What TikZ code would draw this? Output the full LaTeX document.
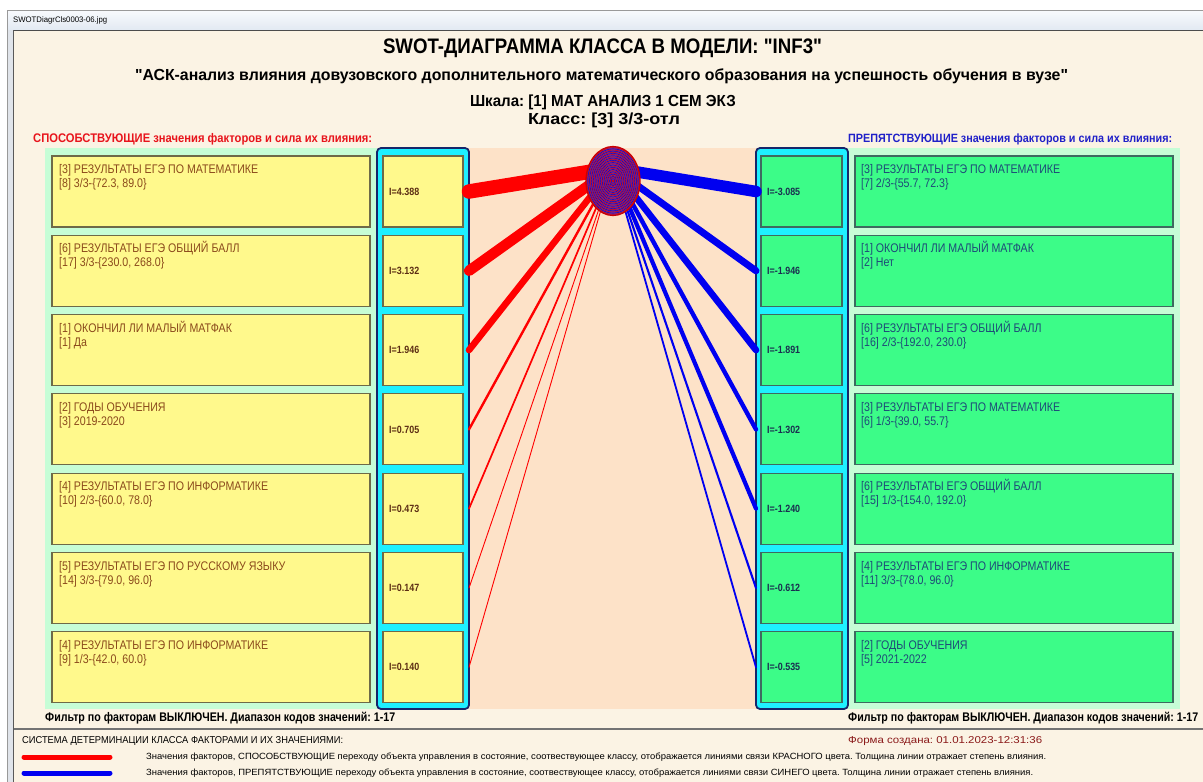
\documentclass[tikz,border=0pt]{standalone}
\usepackage{fontspec}
\setmainfont{Liberation Sans}[Ligatures=TeXOff]
\newfontfamily\nar[FakeStretch=0.85,Ligatures=TeXOff]{Liberation Sans}
\usepackage{graphicx}
\usetikzlibrary{shapes.geometric}
\frenchspacing
% set a line at its natural height, squeezed or stretched to a given width
\newcommand{\fitw}[2]{\resizebox{#1}{\height}{#2}}

\definecolor{cream}{HTML}{FBF3E4}
\definecolor{mint}{HTML}{C6FDD6}
\definecolor{peach}{HTML}{FDE2C8}
\definecolor{yel}{HTML}{FFF98C}
\definecolor{grn}{HTML}{3CFC88}
\definecolor{cyanc}{HTML}{1EF0FF}
\definecolor{navy}{HTML}{16266A}
\definecolor{yborder}{HTML}{6E6A48}
\definecolor{gborder}{HTML}{3E6A60}
\definecolor{ytext}{HTML}{8B4A1C}
\definecolor{yval}{HTML}{5C2E14}
\definecolor{gtext}{HTML}{1E4A78}
\definecolor{gval}{HTML}{1A2F50}
\definecolor{hdred}{HTML}{E8141C}
\definecolor{hdblue}{HTML}{2020C8}
\definecolor{lnred}{HTML}{FF0000}
\definecolor{lnblue}{HTML}{0000F0}
\definecolor{purp}{HTML}{7A2C9C}
\definecolor{formred}{HTML}{8B1A1A}
\definecolor{tbtop}{HTML}{F8FAFD}
\definecolor{tbbot}{HTML}{E2E9F2}
\definecolor{framefill}{HTML}{E0E4EA}

\begin{document}
\begin{tikzpicture}[x=1pt,y=-1pt,
  panelbox/.style={anchor=north west, inner sep=0, outer sep=0, draw=none},
  colbox/.style={anchor=north west, inner sep=0, outer sep=0, fill=cyanc, draw=navy,
    line width=1.8pt, rounded corners=4pt, minimum width=92pt, minimum height=561pt},
  ybox/.style={anchor=north west, inner sep=0, outer sep=0, fill=yel, draw=yborder,
    line width=1.1pt},
  gbox/.style={anchor=north west, inner sep=0, outer sep=0, fill=grn, draw=gborder,
    line width=1.1pt},
  ftext/.style={anchor=base west, inner sep=0, font=\nar\fontsize{12.5}{14}\selectfont},
  vtext/.style={anchor=west, inner sep=0, font=\nar\bfseries\fontsize{10.5}{12}\selectfont},
  redlink/.style={draw=lnred, line cap=round},
  bluelink/.style={draw=lnblue, line cap=round},
]
\useasboundingbox (0,0) rectangle (1203,782);
\fill[white] (0,0) rectangle (1203,782);

% window title bar and frame
\shade[top color=tbtop, bottom color=tbbot] (7,10) rectangle (1203,30);
\draw[black!40, line width=0.8pt] (7,10.4) -- (1203,10.4);
\draw[black!70, line width=1pt] (7,30) -- (1203,30);
\node[anchor=west, inner sep=0] (wtitle) at (13,20.5)
  {\fitw{94pt}{\fontsize{8}{8}\selectfont SWOTDiagrCls0003-06.jpg}};
\fill[framefill] (7,30) rectangle (14,782);
\draw[black!40, line width=0.8pt] (7.4,10) -- (7.4,782);
\draw[black!65, line width=0.9pt] (13.5,30) -- (13.5,782);
\fill[cream] (14,30.5) rectangle (1203,782);

% headings
\node[inner sep=0] (title) at (602.5,48)
  {\fitw{439pt}{\bfseries\fontsize{21}{21}\selectfont SWOT-ДИАГРАММА КЛАССА В МОДЕЛИ: "INF3"}};
\node[inner sep=0] (subtitle) at (601.5,76)
  {\fitw{933pt}{\bfseries\fontsize{16}{16}\selectfont "АСК-анализ влияния довузовского дополнительного математического образования на успешность обучения в вузе"}};
\node[inner sep=0] (scale) at (603,102)
  {\fitw{266pt}{\bfseries\fontsize{16}{16}\selectfont Шкала: [1] МАТ АНАЛИЗ 1 СЕМ ЭКЗ}};
\node[inner sep=0] (cls text) at (604,120)
  {\fitw{152pt}{\bfseries\fontsize{16}{16}\selectfont Класс: [3] 3/3-отл}};
\node[inner sep=0, anchor=west, text=hdred] (lhead) at (33,139)
  {\fitw{339pt}{\bfseries\fontsize{12.5}{12.5}\selectfont СПОСОБСТВУЮЩИЕ значения факторов и сила их влияния:}};
\node[inner sep=0, anchor=west, text=hdblue] (rhead) at (848,139)
  {\fitw{324pt}{\bfseries\fontsize{12}{12}\selectfont ПРЕПЯТСТВУЮЩИЕ значения факторов и сила их влияния:}};

% background panels
\node[panelbox, fill=mint, minimum width=332pt, minimum height=561pt] (lpanel) at (45,148) {};
\node[panelbox, fill=peach, minimum width=288pt, minimum height=561pt] (mpanel) at (469,148) {};
\node[panelbox, fill=mint, minimum width=332pt, minimum height=561pt] (rpanel) at (848,148) {};
\node[colbox] (lcol) at (377,148) {};
\node[colbox] (rcol) at (756,148) {};

% supporting factor values (left)
\foreach \i/\fa/\fb/\val in {
  1/{[3] РЕЗУЛЬТАТЫ ЕГЭ ПО МАТЕМАТИКЕ}/{[8] 3/3-\{72.3, 89.0\}}/4.388,
  2/{[6] РЕЗУЛЬТАТЫ ЕГЭ ОБЩИЙ БАЛЛ}/{[17] 3/3-\{230.0, 268.0\}}/3.132,
  3/{[1] ОКОНЧИЛ ЛИ МАЛЫЙ МАТФАК}/{[1] Да}/1.946,
  4/{[2] ГОДЫ ОБУЧЕНИЯ}/{[3] 2019-2020}/0.705,
  5/{[4] РЕЗУЛЬТАТЫ ЕГЭ ПО ИНФОРМАТИКЕ}/{[10] 2/3-\{60.0, 78.0\}}/0.473,
  6/{[5] РЕЗУЛЬТАТЫ ЕГЭ ПО РУССКОМУ ЯЗЫКУ}/{[14] 3/3-\{79.0, 96.0\}}/0.147,
  7/{[4] РЕЗУЛЬТАТЫ ЕГЭ ПО ИНФОРМАТИКЕ}/{[9] 1/3-\{42.0, 60.0\}}/0.140}{
  \pgfmathsetmacro\yt{156+79.3*(\i-1)}
  \node[ybox, minimum width=318pt, minimum height=71pt] (L\i) at (52,\yt) {};
  \node[ftext, text=ytext, xshift=7pt, yshift=-17.5pt] (La\i) at (L\i.north west) {\fa};
  \node[ftext, text=ytext, xshift=7pt, yshift=-31.5pt] (Lb\i) at (L\i.north west) {\fb};
  \node[ybox, minimum width=80pt, minimum height=71pt] (lv\i) at (383,\yt) {};
  \node[vtext, text=yval, xshift=6pt] (lvt\i) at (lv\i.west) {I=\val};
}

% hindering factor values (right)
\foreach \i/\fa/\fb/\val in {
  1/{[3] РЕЗУЛЬТАТЫ ЕГЭ ПО МАТЕМАТИКЕ}/{[7] 2/3-\{55.7, 72.3\}}/-3.085,
  2/{[1] ОКОНЧИЛ ЛИ МАЛЫЙ МАТФАК}/{[2] Нет}/-1.946,
  3/{[6] РЕЗУЛЬТАТЫ ЕГЭ ОБЩИЙ БАЛЛ}/{[16] 2/3-\{192.0, 230.0\}}/-1.891,
  4/{[3] РЕЗУЛЬТАТЫ ЕГЭ ПО МАТЕМАТИКЕ}/{[6] 1/3-\{39.0, 55.7\}}/-1.302,
  5/{[6] РЕЗУЛЬТАТЫ ЕГЭ ОБЩИЙ БАЛЛ}/{[15] 1/3-\{154.0, 192.0\}}/-1.240,
  6/{[4] РЕЗУЛЬТАТЫ ЕГЭ ПО ИНФОРМАТИКЕ}/{[11] 3/3-\{78.0, 96.0\}}/-0.612,
  7/{[2] ГОДЫ ОБУЧЕНИЯ}/{[5] 2021-2022}/-0.535}{
  \pgfmathsetmacro\yt{156+79.3*(\i-1)}
  \node[gbox, minimum width=81pt, minimum height=71pt] (rv\i) at (761,\yt) {};
  \node[vtext, text=gval, xshift=6pt] (rvt\i) at (rv\i.west) {I=\val};
  \node[gbox, minimum width=318pt, minimum height=71pt] (R\i) at (855,\yt) {};
  \node[ftext, text=gtext, xshift=6pt, yshift=-17.5pt] (Ra\i) at (R\i.north west) {\fa};
  \node[ftext, text=gtext, xshift=6pt, yshift=-31.5pt] (Rb\i) at (R\i.north west) {\fb};
}

% links: line width follows the strength of influence
\coordinate (hub) at (613,168);
\foreach \i/\w in {1/14.5,2/10.5,3/6.6,4/2.4,5/1.7,6/0.9,7/0.9}
  \draw[redlink, line width=\w pt] (lv\i.east -| lcol.east) -- (hub);
\foreach \i/\w in {1/11.5,2/7,3/6.6,4/4.4,5/4.2,6/2.1,7/1.8}
  \draw[bluelink, line width=\w pt] (rv\i.west -| rcol.west) -- (hub);

% the class: an ellipse of fine concentric red and blue rings
\node[ellipse, inner sep=0, minimum width=54pt, minimum height=69pt, fill=purp] (cls) at (613,181) {};
\foreach \k in {1,3,...,29}
  \draw[lnred!85!black, line width=0.45pt] (cls.center) ellipse [x radius={27*\k/30}, y radius={34.5*\k/30}];
\foreach \k in {2,4,...,28}
  \draw[lnblue!80!black, line width=0.4pt] (cls.center) ellipse [x radius={27*\k/30}, y radius={34.5*\k/30}];
\draw[lnred!80!black, line width=1.3pt] (cls.center) ellipse [x radius=27, y radius=34.5];

% filter notes
\node[inner sep=0, anchor=west] (lfilter) at (45,718)
  {\fitw{350pt}{\bfseries\fontsize{12.5}{12.5}\selectfont Фильтр по факторам ВЫКЛЮЧЕН. Диапазон кодов значений: 1-17}};
\node[inner sep=0, anchor=west] (rfilter) at (848,718)
  {\fitw{350pt}{\bfseries\fontsize{12.5}{12.5}\selectfont Фильтр по факторам ВЫКЛЮЧЕН. Диапазон кодов значений: 1-17}};

% legend
\draw[black!55, line width=1.2pt] (14,729) -- (1203,729);
\node[inner sep=0, anchor=west] (legtitle) at (22,741)
  {\fitw{321pt}{\fontsize{10}{10}\selectfont СИСТЕМА ДЕТЕРМИНАЦИИ КЛАССА ФАКТОРАМИ И ИХ ЗНАЧЕНИЯМИ:}};
\node[inner sep=0, anchor=west, text=formred] (formdate) at (848,741)
  {\fitw{194pt}{\fontsize{10}{10}\selectfont Форма создана: 01.01.2023-12:31:36}};
\coordinate (rA) at (24,757);
\coordinate (rB) at (110,757);
\coordinate (bA) at (24,773);
\coordinate (bB) at (110,773);
\draw[redlink, line width=5pt] (rA) -- (rB);
\draw[bluelink, line width=5pt] (bA) -- (bB);
\node[inner sep=0, anchor=west] (legred) at (146,757)
  {\fitw{900pt}{\fontsize{9}{9}\selectfont Значения факторов, СПОСОБСТВУЮЩИЕ переходу объекта управления в состояние, соотвествующее классу, отображается линиями связи КРАСНОГО цвета. Толщина линии отражает степень влияния.}};
\node[inner sep=0, anchor=west] (legblue) at (146,773)
  {\fitw{887pt}{\fontsize{9}{9}\selectfont Значения факторов, ПРЕПЯТСТВУЮЩИЕ переходу объекта управления в состояние, соотвествующее классу, отображается линиями связи СИНЕГО цвета. Толщина линии отражает степень влияния.}};
\end{tikzpicture}
\end{document}
